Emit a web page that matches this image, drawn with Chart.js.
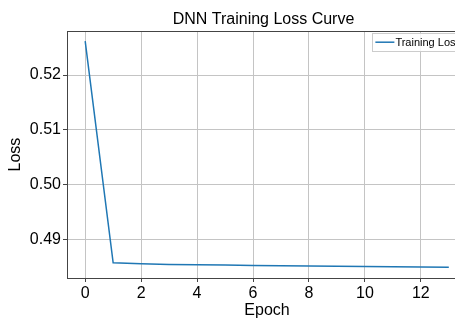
<!DOCTYPE html>
<html>
<head>
<meta charset="utf-8">
<script src="https://cdn.jsdelivr.net/npm/chart.js@4"></script>
<style>
  html, body { margin: 0; padding: 0; background: #fff; overflow: hidden; }
  #wrap { width: 455px; height: 320px; overflow: hidden; }
</style>
</head>
<body>
<div id="wrap"><canvas id="lossChart" width="480" height="320"></canvas></div>
<script>
var epochs = [0, 1, 2, 3, 4, 5, 6, 7, 8, 9, 10, 11, 12, 13];
var trainLoss = [0.5262, 0.48576, 0.48558, 0.48548, 0.48541, 0.48535, 0.4853,
                 0.48525, 0.4852, 0.48515, 0.4851, 0.48506, 0.48501, 0.48496];
var xTicks = [0, 2, 4, 6, 8, 10, 12];
var yTicks = [0.49, 0.50, 0.51, 0.52];

var FONT = '"Liberation Sans", Arial, sans-serif';
var SPINE = '#444';
var GRID = '#c4c4c4';

// top/right spines plus a matplotlib-style legend box inside the axes
var framePlugin = {
  id: 'frame',
  afterLayout: function(chart) {
    // centre the title over the axes rather than the whole canvas
    var t = chart.titleBlock, a = chart.chartArea;
    if (t) { t.left = a.left; t.right = a.right - 7; }
  },
  afterDraw: function(chart) {
    var ctx = chart.ctx, a = chart.chartArea;
    ctx.save();
    ctx.strokeStyle = SPINE;
    ctx.lineWidth = 1;
    ctx.beginPath();
    ctx.moveTo(a.left, Math.round(a.top) + 0.5);
    ctx.lineTo(a.right, Math.round(a.top) + 0.5);
    ctx.moveTo(Math.round(a.right) - 0.5, a.top);
    ctx.lineTo(Math.round(a.right) - 0.5, a.bottom);
    ctx.stroke();

    var ds = chart.data.datasets[0];
    ctx.font = '11px ' + FONT;
    var tw = ctx.measureText(ds.label).width;
    var w = 3 + 19 + 1 + tw + 3, h = 18;
    var x = a.right - 3 - w, y = a.top + 2;
    ctx.fillStyle = 'rgba(255,255,255,0.85)';
    ctx.fillRect(x, y, w, h);
    ctx.strokeStyle = '#cccccc';
    ctx.strokeRect(Math.round(x) + 0.5, Math.round(y) + 0.5, w, h);
    ctx.strokeStyle = ds.borderColor;
    ctx.lineWidth = 1.5;
    ctx.beginPath();
    ctx.moveTo(x + 3, y + h / 2);
    ctx.lineTo(x + 22, y + h / 2);
    ctx.stroke();
    ctx.fillStyle = '#000';
    ctx.textBaseline = 'middle';
    ctx.fillText(ds.label, x + 23, y + h / 2 + 0.5);
    ctx.restore();
  }
};

var chart = new Chart(document.getElementById('lossChart'), {
  type: 'line',
  data: {
    datasets: [{
      label: 'Training Loss',
      data: epochs.map(function(e, i) { return {x: e, y: trainLoss[i]}; }),
      borderColor: '#1f77b4',
      borderWidth: 1.5,
      pointRadius: 0,
      tension: 0,
      fill: false
    }]
  },
  options: {
    responsive: false,
    animation: false,
    layout: { padding: { left: 0, right: 13, top: 0, bottom: 0 } },
    plugins: {
      legend: { display: false },
      tooltip: { enabled: false },
      title: {
        display: true,
        text: 'DNN Training Loss Curve',
        color: '#000',
        font: { family: FONT, size: 16, weight: 'normal' },
        padding: { top: 10, bottom: 2 }
      }
    },
    scales: {
      x: {
        type: 'linear',
        min: -0.65,
        max: 13.65,
        afterBuildTicks: function(s) { s.ticks = xTicks.map(function(v) { return {value: v}; }); },
        afterFit: function(s) { s.height = 42; },
        grid: { color: GRID, lineWidth: 1, tickLength: 4, tickColor: SPINE, tickWidth: 1 },
        border: { display: true, color: SPINE, width: 1 },
        ticks: { color: '#000', padding: 2, maxRotation: 0, font: { family: FONT, size: 16 } },
        title: {
          display: true,
          text: 'Epoch',
          color: '#000',
          font: { family: FONT, size: 16 },
          padding: { top: 0, bottom: 0 }
        }
      },
      y: {
        min: 0.4830,
        max: 0.5280,
        afterBuildTicks: function(s) { s.ticks = yTicks.map(function(v) { return {value: v}; }); },
        afterFit: function(s) { s.width = 67; },
        grid: { color: GRID, lineWidth: 1, tickLength: 4, tickColor: SPINE, tickWidth: 1 },
        border: { display: true, color: SPINE, width: 1 },
        ticks: {
          color: '#000',
          padding: 2,
          font: { family: FONT, size: 16 },
          callback: function(v) { return v.toFixed(2); }
        },
        title: {
          display: true,
          text: 'Loss',
          color: '#000',
          font: { family: FONT, size: 16 },
          padding: { top: 6, bottom: 0 }
        }
      }
    }
  },
  plugins: [framePlugin]
});
</script>
</body>
</html>
